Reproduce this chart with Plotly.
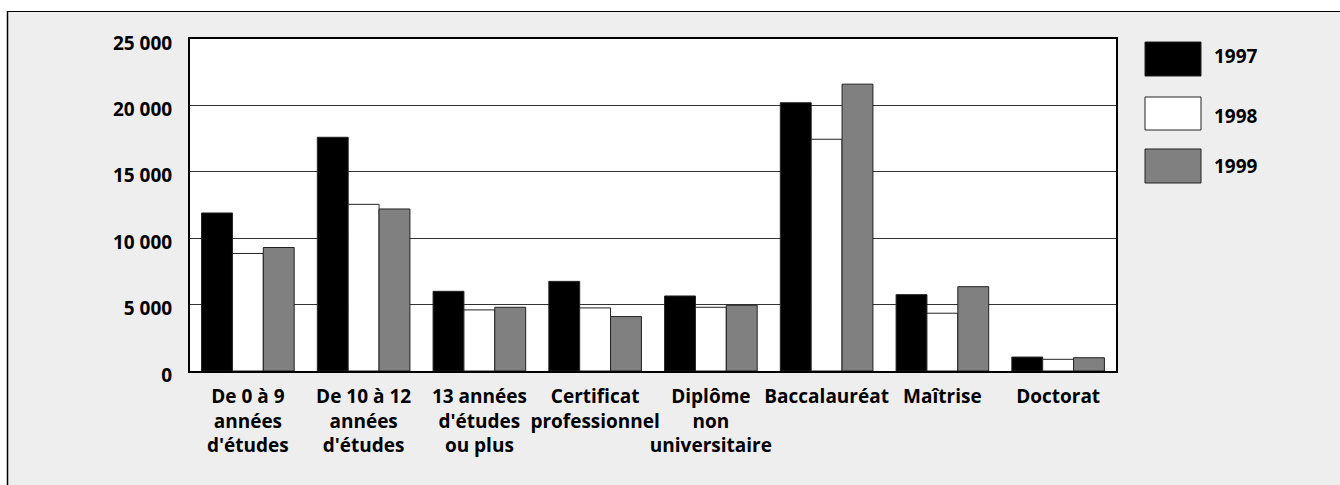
import plotly.graph_objects as go

# ---- data ----
categories = [
    "De 0 à 9<br>années<br>d'études",
    "De 10 à 12<br>années<br>d'études",
    "13 années<br>d'études<br>ou plus",
    "Certificat<br>professionnel",
    "Diplôme<br>non<br>universitaire",
    "Baccalauréat",
    "Maîtrise",
    "Doctorat",
]
series_names = ["1997", "1998", "1999"]
v1997 = [11900, 17600, 6000, 6750, 5650, 20200, 5750, 1050]
v1998 = [8850, 12550, 4600, 4750, 4800, 17450, 4350, 880]
v1999 = [9300, 12200, 4800, 4100, 4950, 21600, 6350, 1000]
tick_vals = [0, 5000, 10000, 15000, 20000, 25000]

# ---- styling / layout (page pixel positions) ----
W, H = 1340, 485
L, T, R_EDGE, B_EDGE = 190, 39, 1116, 371
colors = ["#000000", "#ffffff", "#808080"]
FONT = dict(family="Open Sans, Liberation Sans, sans-serif", size=19, color="#000000", weight=700)
EDGE = "#222222"
BG = "#eeeeee"

def px_x(p):
    return (p - L) / (R_EDGE - L)

def px_y(p):
    return (B_EDGE - p) / (B_EDGE - T)

fig = go.Figure()
for name, vals, col in zip(series_names, [v1997, v1998, v1999], colors):
    fig.add_trace(go.Bar(
        x=categories, y=vals, name=name,
        marker=dict(color=col, line=dict(color=EDGE, width=1)),
        showlegend=False,
    ))

shapes = []
# white strips outside the outer frame, plus the frame lines
shapes.append(dict(type="rect", xref="paper", yref="paper",
                   x0=px_x(-20), x1=px_x(1360), y0=px_y(11), y1=px_y(-20),
                   fillcolor="white", line=dict(width=0), layer="below"))
shapes.append(dict(type="rect", xref="paper", yref="paper",
                   x0=px_x(-20), x1=px_x(7), y0=px_y(500), y1=px_y(-20),
                   fillcolor="white", line=dict(width=0), layer="below"))
shapes.append(dict(type="line", xref="paper", yref="paper",
                   x0=px_x(7), x1=px_x(1360), y0=px_y(11.5), y1=px_y(11.5),
                   line=dict(color="#000000", width=1)))
shapes.append(dict(type="line", xref="paper", yref="paper",
                   x0=px_x(7.5), x1=px_x(7.5), y0=px_y(11), y1=px_y(500),
                   line=dict(color="#000000", width=1.5)))

# custom legend (large swatches)
legend_boxes = [(42, 76), (97, 130), (149, 183)]
legend_text_y = [56, 116, 166]
annotations = []
for name, col, (y0, y1), ty in zip(series_names, colors, legend_boxes, legend_text_y):
    shapes.append(dict(type="rect", xref="paper", yref="paper",
                       x0=px_x(1145), x1=px_x(1201), y0=px_y(y1), y1=px_y(y0),
                       fillcolor=col, line=dict(color=EDGE, width=1)))
    annotations.append(dict(xref="paper", yref="paper", x=px_x(1212), y=px_y(ty),
                            text=name, showarrow=False, xanchor="left", yanchor="middle",
                            font=FONT))

fig.update_layout(
    width=W, height=H,
    margin=dict(l=L, r=W - R_EDGE, t=T, b=H - B_EDGE, pad=0),
    paper_bgcolor=BG, plot_bgcolor="white",
    barmode="group", bargap=0.2, bargroupgap=0,
    separators=", ",
    font=FONT,
    shapes=shapes, annotations=annotations,
    showlegend=False,
)
fig.update_xaxes(
    showline=True, linecolor="#000000", linewidth=2, mirror=True,
    showgrid=False, ticks="", tickfont=FONT, ticklabelstandoff=7,
    tickangle=0,
)
fig.update_yaxes(
    range=[0, 25000], tickvals=tick_vals, tickformat=",d",
    showline=True, linecolor="#000000", linewidth=2, mirror=True,
    showgrid=True, gridcolor="#333333", gridwidth=1, zeroline=False,
    ticks="", tickfont=FONT, ticklabelstandoff=12, ticklabelshift=4,
)

fig.write_html(
    "out.html",
    config={"displayModeBar": False},
    post_script="document.body.style.margin='0px';document.body.style.overflow='hidden';",
)
